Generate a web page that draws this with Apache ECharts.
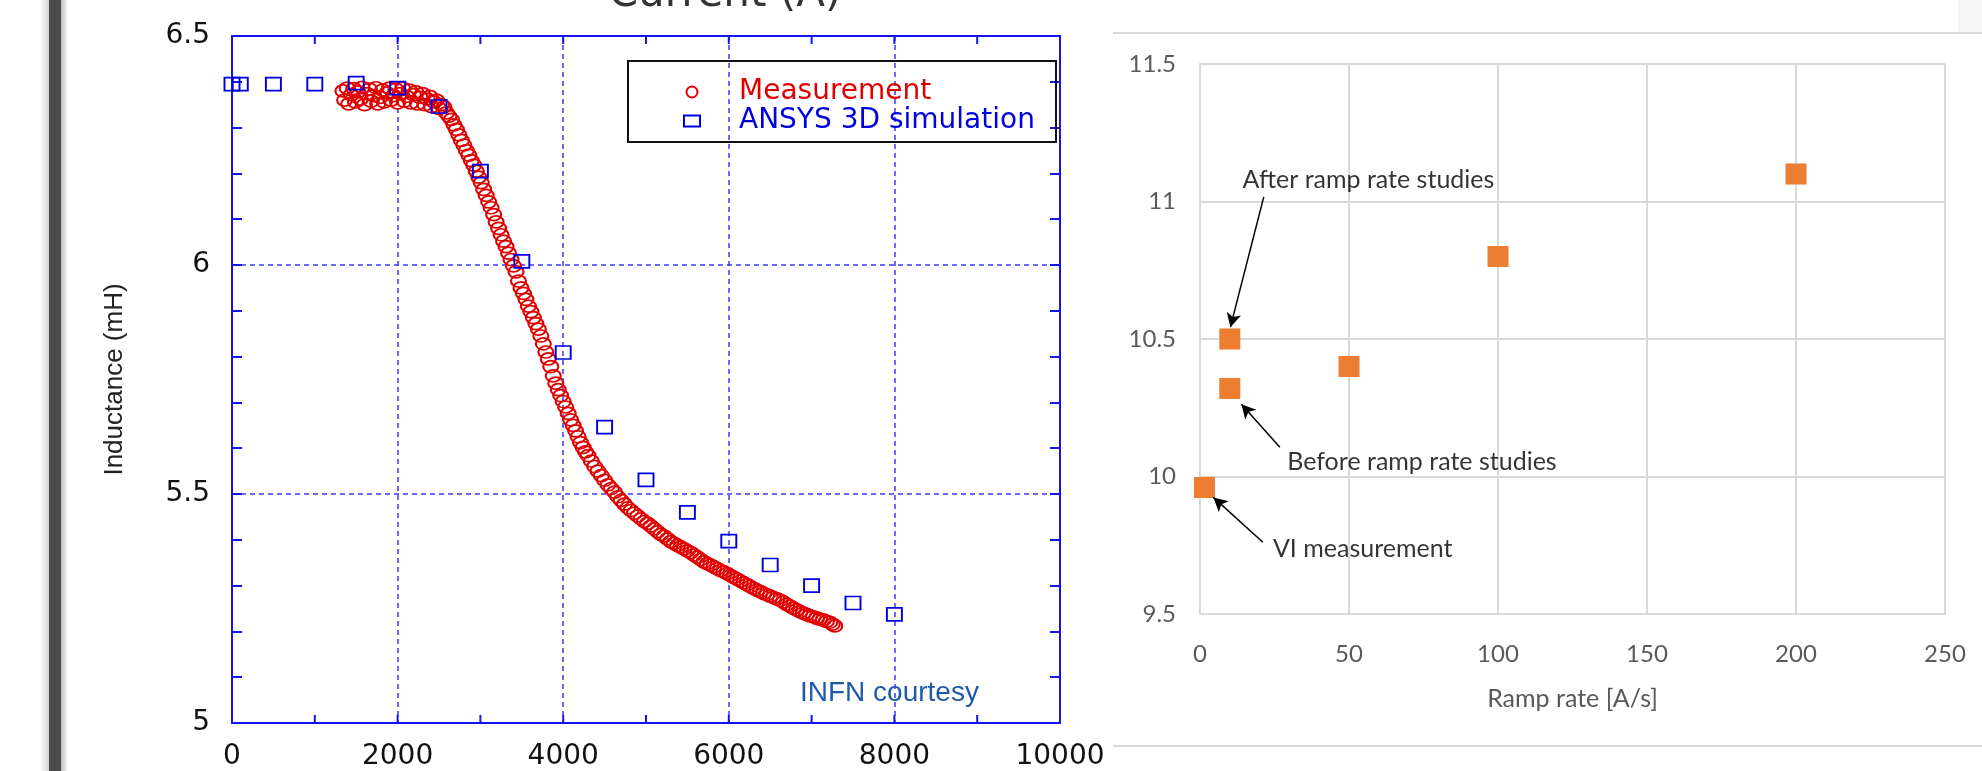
<!DOCTYPE html>
<html>
<head>
<meta charset="utf-8">
<script src="https://cdn.jsdelivr.net/npm/echarts@6/dist/echarts.min.js"></script>
<style>
  html, body { margin: 0; padding: 0; background: #fff; }
  #main { width: 1982px; height: 771px; }
</style>
</head>
<body>
<div id="main"></div>
<script>
// left panel: inductance vs current
var measCurrent = [
  1340, 1360, 1390, 1410, 1440, 1470, 1490, 1520, 1550, 1570, 1600, 1630, 1660, 1680, 1710, 1740,
  1760, 1790, 1820, 1840, 1870, 1900, 1920, 1950, 1980, 2000, 2030, 2060, 2080, 2110, 2140, 2160,
  2190, 2220, 2240, 2270, 2300, 2330, 2360, 2390, 2410, 2440, 2470, 2500, 2530, 2560, 2590, 2620,
  2650, 2680, 2710, 2740, 2770, 2800, 2830, 2860, 2890, 2920, 2950, 2980, 3010, 3040, 3070, 3100,
  3130, 3160, 3190, 3220, 3250, 3280, 3310, 3340, 3370, 3400, 3430, 3460, 3490, 3520, 3550, 3580,
  3610, 3640, 3670, 3700, 3730, 3760, 3790, 3820, 3850, 3880, 3910, 3940, 3970, 4000, 4030, 4060,
  4090, 4120, 4150, 4180, 4210, 4240, 4270, 4300, 4340, 4380, 4420, 4460, 4500, 4540, 4580, 4620,
  4660, 4700, 4740, 4780, 4820, 4860, 4900, 4940, 4980, 5020, 5060, 5100, 5140, 5180, 5220, 5260,
  5300, 5340, 5380, 5420, 5460, 5500, 5540, 5580, 5620, 5660, 5700, 5740, 5780, 5820, 5860, 5900,
  5940, 5980, 6020, 6060, 6100, 6140, 6180, 6220, 6260, 6300, 6340, 6380, 6420, 6460, 6500, 6540,
  6580, 6620, 6660, 6700, 6740, 6780, 6820, 6860, 6900, 6940, 6980, 7020, 7060, 7100, 7140, 7180,
  7220, 7250, 7280
];
var measL = [
  6.380, 6.360, 6.386, 6.352, 6.372, 6.385, 6.356, 6.378, 6.362, 6.388, 6.350, 6.374, 6.384, 6.358, 6.370, 6.387,
  6.352, 6.366, 6.382, 6.356, 6.376, 6.386, 6.360, 6.370, 6.384, 6.354, 6.374, 6.386, 6.358, 6.368, 6.382, 6.354,
  6.372, 6.378, 6.352, 6.366, 6.374, 6.350, 6.362, 6.368, 6.346, 6.356, 6.360, 6.342, 6.350, 6.345, 6.332, 6.325,
  6.318, 6.306, 6.296, 6.284, 6.272, 6.262, 6.250, 6.240, 6.228, 6.218, 6.205, 6.192, 6.180, 6.165, 6.152, 6.138,
  6.125, 6.110, 6.094, 6.080, 6.066, 6.052, 6.040, 6.026, 6.012, 5.998, 5.985, 5.965, 5.950, 5.938, 5.925, 5.910,
  5.898, 5.885, 5.872, 5.860, 5.845, 5.828, 5.810, 5.795, 5.778, 5.758, 5.742, 5.728, 5.715, 5.702, 5.690, 5.676,
  5.662, 5.650, 5.638, 5.625, 5.612, 5.602, 5.592, 5.584, 5.572, 5.560, 5.550, 5.540, 5.530, 5.520, 5.512, 5.504,
  5.494, 5.486, 5.478, 5.470, 5.464, 5.458, 5.452, 5.446, 5.440, 5.436, 5.430, 5.424, 5.418, 5.412, 5.408, 5.402,
  5.396, 5.392, 5.388, 5.384, 5.380, 5.376, 5.372, 5.367, 5.362, 5.357, 5.352, 5.348, 5.345, 5.341, 5.337, 5.333,
  5.330, 5.326, 5.322, 5.318, 5.314, 5.310, 5.306, 5.302, 5.298, 5.294, 5.290, 5.287, 5.283, 5.280, 5.277, 5.274,
  5.271, 5.268, 5.264, 5.259, 5.255, 5.251, 5.247, 5.243, 5.240, 5.237, 5.234, 5.232, 5.229, 5.227, 5.225, 5.222,
  5.220, 5.216, 5.212
];
var simCurrent = [0, 100, 500, 1000, 1500, 2000, 2500, 3000, 3500, 4000, 4500, 5000, 5500, 6000, 6500, 7000, 7500, 8000];
var simL = [6.395, 6.395, 6.395, 6.395, 6.397, 6.386, 6.346, 6.205, 6.008, 5.809, 5.646, 5.531, 5.460, 5.397, 5.345, 5.300, 5.262, 5.237];
// small x ticks of the left frame (top and bottom edges)
var currentTicks = [1000, 2000, 3000, 4000, 5000, 6000, 7000, 8000, 9000];

// right panel: inductance vs ramp rate
var rampRate = [1.5, 10, 10, 50, 100, 200];
var rampL = [9.96, 10.5, 10.32, 10.4, 10.8, 11.1];

// annotations (data units of the right panel)
var noteText = ['After ramp rate studies', 'Before ramp rate studies', 'VI measurement'];
var noteX = [14.1, 29.1, 24.3];
var noteY = [11.08, 10.052, 9.736];
var arrowFrom = [[21.4, 11.017], [26.8, 10.106], [21.1, 9.761]];
var arrowTo = [[10.2, 10.543], [13.9, 10.263], [4.5, 9.924]];

var blue = '#1414f0';
var gridBlue = '#3a3af2';
var grey = '#595959';

var chart = echarts.init(document.getElementById('main'));

function pairs (xs, ys) {
  return xs.map(function (x, i) { return [x, ys[i]]; });
}

// y axes that only carry the small inside ticks of the left frame (negative length -> inwards)
function tickAxis (pos) {
  return {
    gridIndex: 0, type: 'value', position: pos, min: 5, max: 6.5, interval: 0.1,
    axisLine: { show: true, onZero: false, lineStyle: { color: blue, width: 2 } },
    axisTick: { show: true, inside: false, length: -10, lineStyle: { color: blue, width: 2 } },
    axisLabel: { show: false },
    splitLine: { show: false }
  };
}

// x ticks drawn through the axis scale: one inward stub on the bottom and top edge
function renderXTick (params, api) {
  var x = api.value(0);
  var b = api.coord([x, 5]);
  var t = api.coord([x, 6.5]);
  var st = { stroke: blue, lineWidth: 2 };
  return {
    type: 'group',
    children: [
      { type: 'line', shape: { x1: b[0], y1: b[1], x2: b[0], y2: b[1] - 8 }, style: st },
      { type: 'line', shape: { x1: t[0], y1: t[1], x2: t[0], y2: t[1] + 8 }, style: st }
    ]
  };
}

var option = {
  animation: false,
  backgroundColor: '#fff',
  grid: [
    { left: 232, right: 922, top: 36, bottom: 43 },
    { left: 1200, right: 37, top: 64, bottom: 157 }
  ],
  legend: {
    orient: 'vertical',
    left: 678, top: 73,
    itemWidth: 16, itemHeight: 11, itemGap: 1,
    textStyle: { fontFamily: 'DejaVu Sans', fontSize: 28, padding: [0, 0, 0, 34] },
    data: [
      { name: 'Measurement', textStyle: { color: '#e00000' } },
      { name: 'ANSYS 3D simulation', textStyle: { color: '#0000e0' } }
    ]
  },
  xAxis: [
    {
      gridIndex: 0, type: 'value', position: 'bottom', min: 0, max: 10000, interval: 2000,
      axisLine: { onZero: false, lineStyle: { color: blue, width: 2 } },
      axisTick: { show: false },
      axisLabel: {
        color: '#111', fontFamily: 'DejaVu Sans', fontSize: 28, margin: 20,
        formatter: function (v) { return String(v); }
      },
      splitLine: { show: true, lineStyle: { color: gridBlue, width: 1.5, type: [5, 4] } }
    },
    {
      gridIndex: 0, type: 'value', position: 'top', min: 0, max: 10000, interval: 2000,
      axisLine: { show: true, onZero: false, lineStyle: { color: blue, width: 2 } },
      axisTick: { show: false },
      axisLabel: { show: false },
      splitLine: { show: false }
    },
    {
      gridIndex: 1, type: 'value', min: 0, max: 250, interval: 50,
      name: 'Ramp rate [A/s]', nameLocation: 'middle', nameGap: 72,
      nameTextStyle: { color: grey, fontFamily: 'Lato', fontSize: 25 },
      axisLine: { show: true, lineStyle: { color: '#d9d9d9', width: 2 } },
      axisTick: { show: false },
      axisLabel: { color: grey, fontFamily: 'Lato', fontSize: 24, margin: 28 },
      splitLine: { show: true, lineStyle: { color: '#d9d9d9', width: 2 } }
    }
  ],
  yAxis: [
    {
      gridIndex: 0, type: 'value', position: 'left', min: 5, max: 6.5, interval: 0.5,
      name: 'Inductance (mH)', nameLocation: 'middle', nameGap: 104,
      nameTextStyle: { color: '#222', fontFamily: 'Liberation Sans', fontSize: 26 },
      axisLine: { onZero: false, lineStyle: { color: blue, width: 2 } },
      axisTick: { show: false },
      axisLabel: { color: '#111', fontFamily: 'DejaVu Sans', fontSize: 28, margin: 22 },
      splitLine: { show: true, lineStyle: { color: gridBlue, width: 1.5, type: [5, 4] } }
    },
    tickAxis('left'),
    tickAxis('right'),
    {
      gridIndex: 1, type: 'value', min: 9.5, max: 11.5, interval: 0.5,
      axisLine: { show: true, lineStyle: { color: '#d9d9d9', width: 2 } },
      axisTick: { show: false },
      axisLabel: { color: grey, fontFamily: 'Lato', fontSize: 24, margin: 24 },
      splitLine: { show: true, lineStyle: { color: '#d9d9d9', width: 2 } }
    }
  ],
  series: [
    {
      name: 'Measurement', type: 'scatter', xAxisIndex: 0, yAxisIndex: 0,
      symbol: 'circle', symbolSize: [15, 12],
      itemStyle: { color: 'rgba(255,255,255,0)', borderColor: '#e00000', borderWidth: 1.9, opacity: 1 },
      data: pairs(measCurrent, measL), z: 3
    },
    {
      name: 'ANSYS 3D simulation', type: 'scatter', xAxisIndex: 0, yAxisIndex: 0,
      symbol: 'rect', symbolSize: [15, 13],
      itemStyle: { color: 'rgba(255,255,255,0)', borderColor: '#0000e6', borderWidth: 1.8, opacity: 1 },
      data: pairs(simCurrent, simL), z: 4
    },
    {
      name: 'xTicks', type: 'custom', xAxisIndex: 0, yAxisIndex: 0,
      silent: true, z: 5, clip: false,
      renderItem: renderXTick,
      encode: { x: 0 },
      data: currentTicks.map(function (c) { return [c]; })
    },
    {
      name: 'Ramp', type: 'scatter', xAxisIndex: 2, yAxisIndex: 3,
      symbol: 'rect', symbolSize: 21,
      itemStyle: { color: '#ed7d31', opacity: 1 },
      data: pairs(rampRate, rampL),
      markLine: {
        silent: true, symbol: ['none', 'arrow'], symbolSize: [11, 14],
        label: { show: false },
        lineStyle: { color: '#000', width: 1.5, type: 'solid' },
        data: arrowFrom.map(function (p, i) {
          return [{ coord: p }, { coord: arrowTo[i] }];
        })
      }
    },
    {
      name: 'Notes', type: 'scatter', xAxisIndex: 2, yAxisIndex: 3,
      symbolSize: 1, itemStyle: { color: 'rgba(0,0,0,0)' }, silent: true,
      label: {
        show: true, position: 'right', distance: 0, color: '#000',
        fontFamily: 'Lato', fontSize: 25,
        formatter: function (p) { return noteText[p.dataIndex]; }
      },
      data: pairs(noteX, noteY)
    }
  ],
  graphic: [
    // left edge of the slide
    { type: 'rect', shape: { x: 40, y: 0, width: 9, height: 771 },
      style: { fill: new echarts.graphic.LinearGradient(0, 0, 1, 0, [{ offset: 0, color: '#ffffff' }, { offset: 1, color: '#d6d6d6' }]) } },
    { type: 'rect', shape: { x: 49, y: 0, width: 12, height: 771 }, style: { fill: '#4b4b4b' } },
    { type: 'rect', shape: { x: 61, y: 0, width: 7, height: 771 },
      style: { fill: new echarts.graphic.LinearGradient(0, 0, 1, 0, [{ offset: 0, color: '#bdbdbd' }, { offset: 1, color: '#ffffff' }]) } },
    // clipped title
    { type: 'text', x: 725, y: -5,
      style: { text: 'Current (A)', fontFamily: 'DejaVu Sans', fontSize: 42, fill: '#333', align: 'center', verticalAlign: 'middle' } },
    // legend frame
    { type: 'rect', shape: { x: 628, y: 61, width: 428, height: 81 },
      style: { fill: 'rgba(0,0,0,0)', stroke: '#111', lineWidth: 2 }, z: 10 },
    { type: 'text', x: 800, y: 693,
      style: { text: 'INFN courtesy', fontFamily: 'Liberation Sans', fontSize: 28, fill: '#1f5aa8', verticalAlign: 'middle' } },
    // right slide frame
    { type: 'line', shape: { x1: 1113, y1: 33, x2: 1982, y2: 33 }, style: { stroke: '#d9d9d9', lineWidth: 2 } },
    { type: 'line', shape: { x1: 1113, y1: 746, x2: 1982, y2: 746 }, style: { stroke: '#d9d9d9', lineWidth: 2 } },
    { type: 'rect', shape: { x: 1958, y: 0, width: 24, height: 32 }, style: { fill: '#f6f6f6' } }
  ]
};

chart.setOption(option);
</script>
</body>
</html>
